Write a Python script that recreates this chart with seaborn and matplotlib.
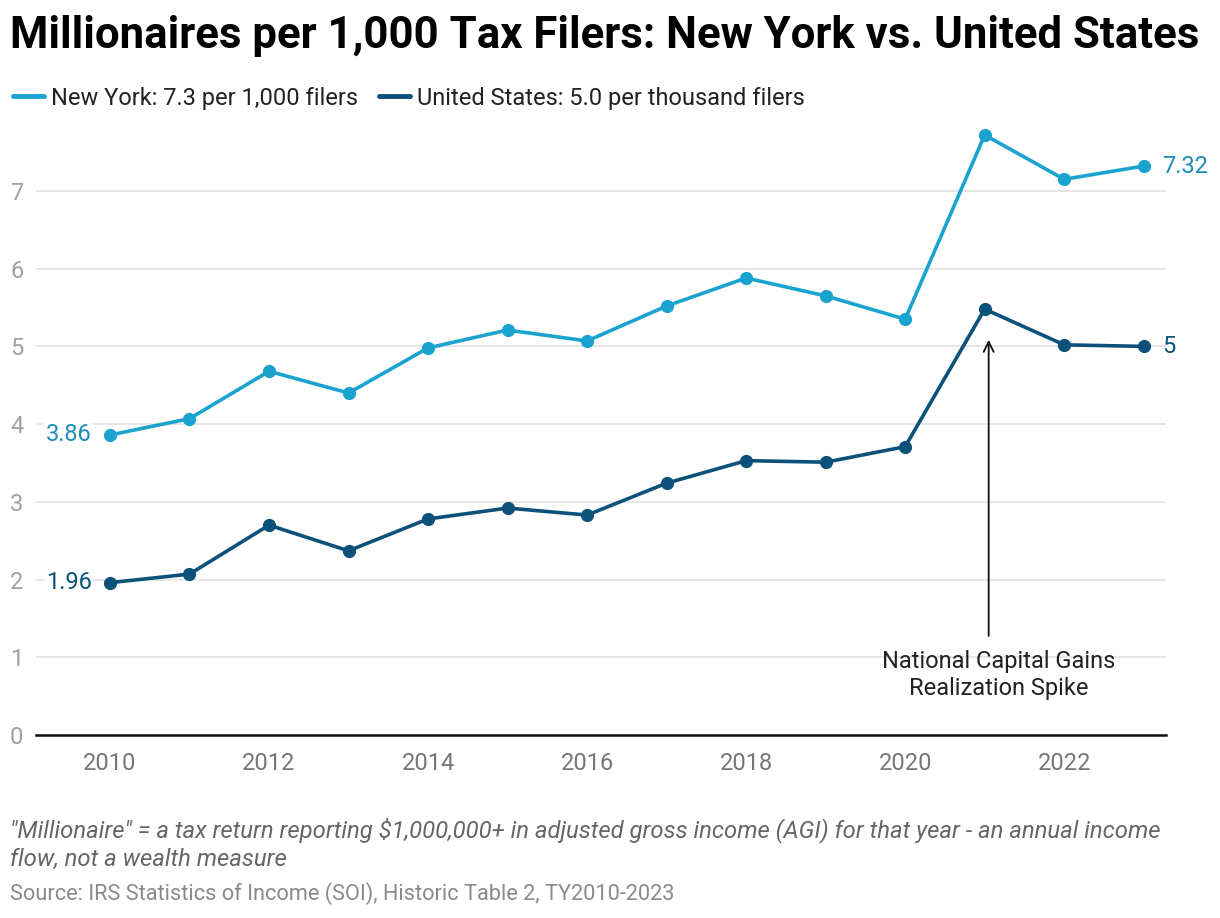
import pandas as pd
import numpy as np
import seaborn as sns
import matplotlib.pyplot as plt

sns.set_theme(style="white")
plt.rcParams['font.family'] = ['Roboto', 'DejaVu Sans']

# data
years = list(range(2010, 2024))
ny_vals = [3.86, 4.07, 4.68, 4.40, 4.98, 5.21, 5.07, 5.52, 5.88, 5.65, 5.35, 7.72, 7.15, 7.32]
us_vals = [1.96, 2.07, 2.70, 2.37, 2.78, 2.92, 2.83, 3.24, 3.53, 3.51, 3.71, 5.48, 5.02, 5.00]
ny_name = "New York: 7.3 per 1,000 filers"
us_name = "United States: 5.0 per thousand filers"
ny_col = "#1ba3d0"
us_col = "#0b5179"

df = pd.concat([
    pd.DataFrame({'year': years, 'value': ny_vals, 'series': ny_name}),
    pd.DataFrame({'year': years, 'value': us_vals, 'series': us_name}),
])

W, H = 1220, 918
fig = plt.figure(figsize=(W / 100, H / 100), dpi=100)
ax = fig.add_axes([36 / W, 1 - 735 / H, (1166 - 36) / W, (735 - 121) / H])

sns.lineplot(data=df, x='year', y='value', hue='series', palette=[ny_col, us_col],
             marker='o', markersize=9.5, markeredgewidth=0, linewidth=2.6,
             ax=ax, legend=False)

ax.set_xlim(2009.07, 2023.28)
ax.set_ylim(0, 7.9)
ax.set_xticks(range(2010, 2024, 2))
ax.set_yticks(range(0, 8))
ax.set_xlabel('')
ax.set_ylabel('')
ax.yaxis.grid(True, color='#e2e2e2', linewidth=1.2)
ax.set_axisbelow(True)
for s in ['left', 'right', 'top']:
    ax.spines[s].set_visible(False)
ax.spines['bottom'].set_color('#111111')
ax.spines['bottom'].set_linewidth(1.8)
ax.tick_params(axis='x', colors='#777777', labelsize=17, length=0, pad=12)
ax.tick_params(axis='y', colors='#a0a0a0', labelsize=17, length=0, pad=0)
for lab in ax.get_yticklabels():
    lab.set_horizontalalignment('left')
    lab.set_x(-26 / (1166 - 36))

# end labels
ax.text(years[0] - 0.23, ny_vals[0], f"{ny_vals[0]:.2f}", color='#1a8dbb', fontsize=17,
        ha='right', va='center', bbox=dict(facecolor='white', edgecolor='none', pad=1))
ax.text(years[0] - 0.23, us_vals[0], f"{us_vals[0]:.2f}", color=us_col, fontsize=17,
        ha='right', va='center', bbox=dict(facecolor='white', edgecolor='none', pad=1))
ax.text(years[-1] + 0.23, ny_vals[-1], f"{ny_vals[-1]:.2f}", color='#1a8dbb', fontsize=17,
        ha='left', va='center')
ax.text(years[-1] + 0.23, us_vals[-1], "5", color=us_col, fontsize=17,
        ha='left', va='center')

# annotation
ax.annotate("", xy=(2021.05, 5.12), xytext=(2021.05, 1.24),
            arrowprops=dict(arrowstyle='->', color='#111111', lw=1.3, mutation_scale=18))
ax.text(2021.18, 1.1, "National Capital Gains\nRealization Spike", color='#222222',
        fontsize=17, ha='center', va='top', linespacing=1.25)

# title and legend
fig.text(10 / W, 1 - 36 / H, "Millionaires per 1,000 Tax Filers: New York vs. United States",
         fontsize=31.5, fontweight='bold', color='#000000', va='center', ha='left')
handles = [plt.Line2D([], [], color=ny_col, lw=3.5, solid_capstyle='round'),
           plt.Line2D([], [], color=us_col, lw=3.5, solid_capstyle='round')]
fig.legend(handles, [ny_name, us_name], loc='center left', bbox_to_anchor=(-8 / W, 1 - 98 / H),
           ncol=2, frameon=False, fontsize=17, handlelength=1.3, handletextpad=0.3,
           columnspacing=0.9, labelcolor='#222222')

# footnotes
fig.text(10 / W, 1 - 844 / H,
         "\"Millionaire\" = a tax return reporting $1,000,000+ in adjusted gross income (AGI) for that year - an annual income\nflow, not a wealth measure",
         fontsize=17.2, style='italic', color='#666666', va='center', ha='left', linespacing=1.25)
fig.text(10 / W, 1 - 894 / H, "Source: IRS Statistics of Income (SOI), Historic Table 2, TY2010-2023",
         fontsize=15.7, color='#8a8a8a', va='center', ha='left')

fig.savefig('out.png', dpi=100)
